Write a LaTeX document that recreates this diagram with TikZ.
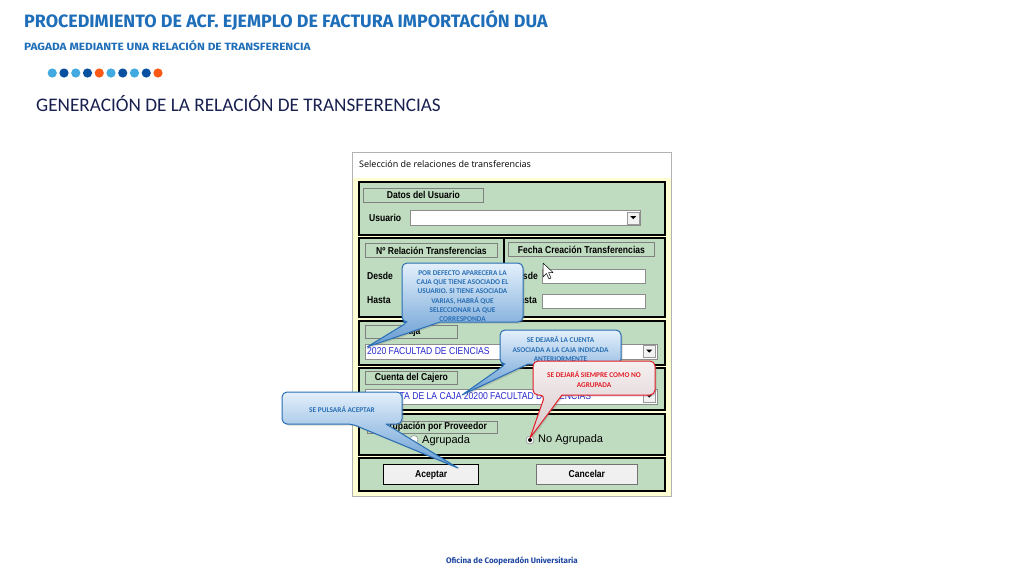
\documentclass[tikz,border=0pt]{standalone}
\usepackage{fontspec}
\setmainfont{Liberation Sans}
\newfontfamily\headfont{Fira Sans}
\newfontfamily\subfont[FakeStretch=1.13]{Fira Sans}
\newfontfamily\calfont{Carlito}
\newfontfamily\dlgfont[FakeStretch=0.86]{Liberation Sans}
\newfontfamily\winfont{Open Sans}
\usetikzlibrary{shadows}

\definecolor{titleblue}{RGB}{31,110,185}
\definecolor{navy}{RGB}{24,32,80}
\definecolor{footblue}{RGB}{30,70,160}
\definecolor{dotlight}{RGB}{64,170,225}
\definecolor{dotdark}{RGB}{10,80,160}
\definecolor{dotorange}{RGB}{250,90,20}
\definecolor{panelgreen}{RGB}{192,220,192}
\definecolor{dlgyellow}{RGB}{255,255,212}
\definecolor{combotext}{RGB}{40,40,205}
\definecolor{calblue}{RGB}{40,110,180}
\definecolor{caltop}{RGB}{228,240,251}
\definecolor{calbottom}{RGB}{100,155,210}
\definecolor{calred}{RGB}{225,30,40}
\definecolor{redtop}{RGB}{246,240,240}
\definecolor{redbottom}{RGB}{215,200,202}

% llamada: estilo, x1, y1, x2, y2, base izq., base der., punta x, punta y
\newcommand\nota[9]{%
  \path[#1] (#7,#5) [rounded corners=5pt] -- (#4,#5) -- (#4,#3) -- (#2,#3) -- (#2,#5)
    -- (#6,#5) [sharp corners] -- (#8,#9) -- cycle;}

\tikzset{
  panel/.style={draw=black, line width=1.6pt, fill=panelgreen},
  framelbl/.style={draw=black!50, line width=0.8pt, fill=panelgreen, inner sep=0pt,
    anchor=north west, font=\dlgfont\bfseries\fontsize{10}{12}\selectfont},
  lbl/.style={anchor=west, inner sep=0pt, font=\dlgfont\bfseries\fontsize{10}{12}\selectfont},
  entry/.style={draw=black!45, fill=white, line width=0.6pt, inner sep=0pt, anchor=north west},
  combotxt/.style={anchor=west, inner sep=0pt, text=combotext,
    font=\dlgfont\fontsize{10}{12}\selectfont},
  ddbtn/.style={draw=black!40, fill=black!5, inner sep=0pt, anchor=north west,
    minimum width=12pt, minimum height=12pt,
    path picture={\fill[black] (path picture bounding box.center) ++(-3pt,1.5pt)
      -- ++(6pt,0pt) -- ++(-3pt,-3pt) -- cycle;}},
  radio/.style={circle, draw=black!55, fill=white, minimum size=8pt, inner sep=0pt},
  radioon/.style={radio, path picture={\fill[black] (path picture bounding box.center) circle (2pt);}},
  radiotxt/.style={anchor=west, inner sep=0pt, font=\fontsize{11}{13}\selectfont},
  btn/.style={draw=black!55, line width=0.8pt, fill=black!6, inner sep=0pt,
    anchor=north west, font=\dlgfont\bfseries\fontsize{10}{12}\selectfont},
  notabox/.style={draw=calblue, line width=1pt, line join=round, top color=caltop,
    bottom color=calbottom, drop shadow={opacity=0.3, shadow xshift=1.5pt, shadow yshift=-1.5pt}},
  notared/.style={notabox, draw=calred, top color=redtop, bottom color=redbottom},
  notatxt/.style={text=calblue, align=center, inner sep=0pt,
    font=\calfont\bfseries\fontsize{7.3}{9.3}\selectfont}
}

\begin{document}
\begin{tikzpicture}[x=1pt,y=-1pt]
    \useasboundingbox (0,0) rectangle (1024,576);
    \fill[white] (0,0) rectangle (1024,576);
    % cabecera
    \node[anchor=west, inner sep=0pt, text=titleblue, font=\headfont\bfseries\fontsize{17.9}{20}\selectfont]
      (titulo) at (24,20) {PROCEDIMIENTO DE ACF. EJEMPLO DE FACTURA IMPORTACIÓN DUA};
    \node[anchor=west, inner sep=0pt, text=titleblue, font=\subfont\bfseries\fontsize{10.5}{12}\selectfont]
      (subtitulo) at (24,46) {PAGADA MEDIANTE UNA RELACIÓN DE TRANSFERENCIA};
    \foreach \col [count=\i] in {dotlight,dotdark,dotlight,dotdark,dotorange,
                                 dotlight,dotdark,dotlight,dotdark,dotorange}
      \fill[\col] (40.5+11.75*\i,73) circle (4.6);
    \node[anchor=west, inner sep=0pt, text=navy, font=\calfont\fontsize{19.2}{22}\selectfont]
      (seccion) at (36,104) {GENERACIÓN DE LA RELACIÓN DE TRANSFERENCIAS};
    \node[inner sep=0pt, text=footblue, font=\headfont\bfseries\fontsize{8}{9}\selectfont]
      (pie) at (512,561) {Oficina de Cooperadón Universitaria};
    % ventana
    \draw[draw=black!30, fill=dlgyellow] (352,152) rectangle (671,496);
    \fill[white] (352.5,152.5) rectangle (670.5,178);
    \node[anchor=west, inner sep=0pt, font=\winfont\fontsize{9}{10}\selectfont]
      (vtitulo) at (359,164) {Selección de relaciones de transferencias};
    % paneles
    \draw[panel] (359,182) rectangle (665,235);
    \draw[panel] (359,238) rectangle (665,317);
    \draw[panel] (504,238) -- (504,317);
    \draw[panel] (359,321) rectangle (665,365);
    \draw[panel] (359,368) rectangle (665,410);
    \draw[panel] (359,414) rectangle (665,455);
    \draw[panel] (359,458) rectangle (665,491);
    % datos del usuario
    \node[framelbl, minimum width=120pt, minimum height=14pt] (lbldatos) at (363,188) {Datos del Usuario};
    \node[lbl] (usuario) at (369,218) {Usuario};
    \node[entry, minimum width=230pt, minimum height=15pt] (cbusuario) at (410,210) {};
    \node[ddbtn] (ddusuario) at (627,211.5) {};
    % relacion y fecha
    \node[framelbl, minimum width=132pt, minimum height=14pt] (lblnum) at (365,243) {Nº Relación Transferencias};
    \node[framelbl, minimum width=146pt, minimum height=14pt] (lblfecha) at (508,242) {Fecha Creación Transferencias};
    \node[lbl] (desde) at (367,276) {Desde};
    \node[lbl] (hasta) at (367,300) {Hasta};
    \node[entry, minimum width=92pt, minimum height=14pt] (numdesde) at (402,269) {};
    \node[entry, minimum width=92pt, minimum height=14pt] (numhasta) at (402,293) {};
    \node[lbl, anchor=east] (fdesde) at (538,276) {Desde};
    \node[lbl, anchor=east] (fhasta) at (537,300) {Hasta};
    \node[entry, minimum width=103pt, minimum height=14pt] (fecdesde) at (542,269) {};
    \node[entry, minimum width=103pt, minimum height=14pt] (fechasta) at (542,294) {};
    % caja y cuenta
    \node[framelbl, minimum width=92pt, minimum height=13pt] (lblcaja) at (365,325) {Caja};
    \node[entry, minimum width=292pt, minimum height=15pt] (cbcaja) at (365,343.5) {};
    \node[combotxt] (txtcaja) at (367,351.5) {2020 FACULTAD DE CIENCIAS};
    \node[ddbtn] (ddcaja) at (643,345) {};
    \node[framelbl, minimum width=92pt, minimum height=13pt] (lblcuenta) at (365,371) {Cuenta del Cajero};
    \node[entry, minimum width=292pt, minimum height=15pt] (cbcuenta) at (365,388.5) {};
    \node[combotxt] (txtcuenta) at (375,396.5) {CUENTA DE LA CAJA 20200 FACULTAD DE CIENCIAS};
    \node[ddbtn] (ddcuenta) at (643,390) {};
    % agrupacion
    \node[framelbl, minimum width=130pt, minimum height=12pt] (lblagrup) at (367,420.5) {Agrupación por Proveedor};
    \node[radio] (ragrup) at (414,439.5) {};
    \node[radiotxt] (tagrup) at (422,441) {Agrupada};
    \node[radioon] (rnoagrup) at (530,440) {};
    \node[radiotxt] (tnoagrup) at (538,440) {No Agrupada};
    % botones
    \node[btn, draw=black, line width=1.4pt, minimum width=95pt, minimum height=20pt] (aceptar) at (383,464) {Aceptar};
    \node[btn, minimum width=101pt, minimum height=20pt] (cancelar) at (536,464) {Cancelar};
    % cursor
    \draw[fill=white, line width=0.5pt, line join=round] (543,263) -- (543,277) -- (546.5,273.5)
      -- (549,279) -- (551,278) -- (548.5,272.5) -- (553,272.5) -- cycle;
    % llamadas
    \nota{notabox}{402}{263}{523}{322}{408}{440}{367}{347}
    \node[notatxt] (notacaja) at (462.5,296) {POR DEFECTO APARECERA LA\\CAJA QUE TIENE ASOCIADO EL\\USUARIO. SI TIENE ASOCIADA\\VARIAS, HABRÁ QUE\\SELECCIONAR LA QUE\\CORRESPONDA};
    \nota{notabox}{500}{330}{621}{364}{506}{528}{462}{395}
    \node[notatxt] (notacuenta) at (560.5,349) {SE DEJARÁ LA CUENTA\\ASOCIADA A LA CAJA INDICADA\\ANTERIORMENTE};
    \nota{notared}{533}{361}{655}{395}{545}{562}{530}{438}
    \node[notatxt, text=calred] (notaagrup) at (594,379.5) {SE DEJARÁ SIEMPRE COMO NO\\AGRUPADA};
    \nota{notabox}{282}{392}{402}{424}{352}{386}{458}{468}
    \node[notatxt] (notaaceptar) at (342,409) {SE PULSARÁ ACEPTAR};
\end{tikzpicture}
\end{document}
